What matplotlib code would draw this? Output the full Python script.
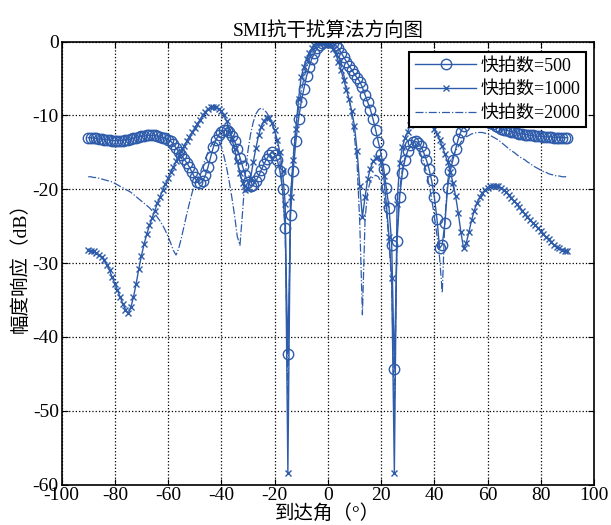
import matplotlib
matplotlib.use("Agg")
import matplotlib.pyplot as plt

plt.rcParams['font.family'] = ['Liberation Serif', 'Noto Sans CJK SC', 'DejaVu Sans']
plt.rcParams['axes.unicode_minus'] = False

# arrival angle (degrees), 1-degree steps
angles = list(range(-90, 91))

s500 = [
    -13.0, -13.0, -13.1, -13.1, -13.2, -13.2, -13.3, -13.3, -13.3, -13.4,
    -13.4, -13.4, -13.4, -13.4, -13.3, -13.3, -13.2, -13.1, -13.0, -12.9,
    -12.8, -12.8, -12.7, -12.7, -12.7, -12.7, -12.8, -12.9, -13.0, -13.1,
    -13.3, -13.5, -13.9, -14.4, -14.9, -15.4, -15.9, -16.4, -17.0, -17.7,
    -18.4, -19.0, -19.2, -18.9, -18.1, -17.0, -15.6, -14.3, -13.3, -12.6,
    -12.2, -12.0, -12.0, -12.3, -12.8, -13.5, -14.5, -15.7, -16.9, -18.1,
    -19.0, -19.5, -19.4, -18.9, -18.2, -17.4, -16.6, -15.9, -15.3, -15.0,
    -15.3, -16.0, -17.5, -20.0, -25.2, -42.3, -23.5, -17.5, -13.5, -10.5,
    -8.2, -6.4, -4.7, -3.4, -2.3, -1.5, -0.9, -0.45, -0.15, -0.02,
    0.0, -0.05, -0.2, -0.5, -0.9, -1.5, -2.1, -2.7, -3.3, -3.8,
    -4.4, -4.9, -5.4, -6.2, -7.2, -8.2, -9.2, -10.5, -12.0, -13.6,
    -15.2, -17.2, -19.8, -22.5, -27.5, -44.3, -27.0, -21.0, -17.8, -16.0,
    -14.8, -14.0, -13.6, -13.5, -13.7, -14.2, -15.0, -16.0, -17.2, -18.8,
    -21.0, -24.0, -28.0, -27.5, -24.5, -19.8, -17.5, -16.0, -14.6, -13.2,
    -12.2, -11.4, -10.8, -10.4, -10.2, -10.1, -10.1, -10.2, -10.4, -10.6,
    -10.8, -11.0, -11.2, -11.4, -11.6, -11.8, -11.9, -12.0, -12.1, -12.2,
    -12.3, -12.4, -12.5, -12.5, -12.6, -12.6, -12.7, -12.7, -12.8, -12.8,
    -12.8, -12.9, -12.9, -12.9, -12.9, -13.0, -13.0, -13.0, -13.0, -13.0,
    -13.0,
]

s1000 = [
    -28.2, -28.3, -28.4, -28.6, -28.9, -29.2, -29.6, -30.2, -31.0, -31.9,
    -32.8, -33.7, -34.6, -35.5, -36.3, -36.8, -36.0, -34.6, -32.8, -30.8,
    -29.0, -27.4, -26.1, -24.9, -23.9, -22.9, -21.9, -21.0, -20.1, -19.3,
    -18.5, -17.7, -17.0, -16.2, -15.5, -14.8, -14.1, -13.5, -12.9, -12.3,
    -11.7, -11.1, -10.6, -10.0, -9.5, -9.1, -8.9, -8.8, -8.9, -9.1,
    -9.4, -10.0, -10.8, -11.9, -13.2, -14.6, -16.2, -17.8, -19.2, -20.1,
    -20.0, -18.5, -16.3, -14.4, -12.7, -11.5, -10.7, -10.3, -10.3, -11.0,
    -12.0, -13.3, -15.0, -17.5, -22.0, -58.5, -21.0, -16.0, -11.8, -7.8,
    -4.8, -3.4, -2.3, -1.5, -0.9, -0.5, -0.2, -0.05, 0.0, -0.05,
    -0.2, -0.5, -1.0, -1.7, -2.7, -3.9, -5.2, -6.5, -7.8, -9.4,
    -11.4, -14.8, -19.5, -23.8, -21.0, -18.6, -17.2, -16.2, -15.8, -15.6,
    -16.3, -18.2, -22.0, -26.5, -32.0, -58.5, -22.0, -16.5, -14.3, -13.0,
    -12.2, -11.3, -10.6, -10.1, -9.8, -9.7, -9.8, -10.1, -10.6, -11.2,
    -11.8, -12.5, -13.3, -14.2, -15.2, -16.3, -17.6, -19.1, -20.9, -23.2,
    -25.8, -28.0, -27.3, -25.8, -24.2, -22.9, -21.9, -21.1, -20.5, -20.1,
    -19.8, -19.6, -19.5, -19.5, -19.6, -19.8, -20.1, -20.4, -20.8, -21.2,
    -21.6, -22.0, -22.4, -22.9, -23.3, -23.7, -24.1, -24.5, -24.9, -25.3,
    -25.7, -26.1, -26.5, -26.8, -27.2, -27.5, -27.8, -28.0, -28.2, -28.3,
    -28.4,
]

s2000 = [
    -18.3, -18.3, -18.4, -18.4, -18.5, -18.6, -18.7, -18.8, -18.9, -19.0,
    -19.2, -19.4, -19.6, -19.8, -20.0, -20.2, -20.4, -20.7, -21.0, -21.3,
    -21.6, -21.9, -22.2, -22.5, -22.9, -23.3, -23.8, -24.3, -24.9, -25.6,
    -26.4, -27.3, -28.3, -28.9, -28.0, -26.6, -25.0, -23.4, -21.9, -20.5,
    -19.3, -18.6, -17.8, -16.9, -15.9, -15.0, -14.2, -13.6, -13.3, -13.4,
    -14.2, -15.5, -17.1, -19.0, -21.2, -23.6, -26.4, -27.6, -23.0, -18.0,
    -14.8, -12.5, -10.9, -9.8, -9.2, -9.0, -9.2, -9.6, -10.2, -11.0,
    -12.2, -13.9, -16.3, -19.8, -26.0, -48.0, -21.0, -15.5, -11.8, -9.0,
    -6.8, -5.0, -3.6, -2.5, -1.6, -1.0, -0.5, -0.2, -0.05, 0.0,
    -0.1, -0.3, -0.7, -1.3, -2.1, -3.2, -4.5, -6.0, -7.8, -10.0,
    -12.8, -16.5, -24.5, -37.0, -24.0, -20.2, -18.9, -18.3, -18.1, -18.3,
    -19.0, -20.5, -23.0, -27.0, -33.0, -50.0, -26.0, -20.0, -17.3, -15.7,
    -14.8, -14.3, -14.1, -14.2, -14.6, -15.3, -16.3, -17.6, -19.3, -21.3,
    -23.6, -26.2, -29.3, -34.0, -24.0, -19.0, -16.8, -15.5, -14.8, -14.2,
    -13.6, -13.2, -12.9, -12.7, -12.5, -12.4, -12.3, -12.3, -12.3, -12.4,
    -12.5, -12.7, -12.9, -13.1, -13.3, -13.6, -13.9, -14.2, -14.5, -14.8,
    -15.0, -15.3, -15.6, -15.8, -16.0, -16.3, -16.5, -16.8, -17.0, -17.2,
    -17.4, -17.6, -17.7, -17.9, -18.0, -18.1, -18.2, -18.2, -18.3, -18.3,
    -18.3,
]

labels = ['快拍数=500', '快拍数=1000', '快拍数=2000']
xticks = [-100, -80, -60, -40, -20, 0, 20, 40, 60, 80, 100]
yticks = [-60, -50, -40, -30, -20, -10, 0]

color = '#2E5CAB'

fig = plt.figure(figsize=(6.11, 5.25), dpi=100)
ax = fig.add_axes([0.1008, 0.0771, 0.8714, 0.8435])

ax.plot(angles, s500, '-', color=color, lw=1.0, marker='o', ms=7.5,
        mfc='none', mec=color, mew=1.0, label=labels[0])
ax.plot(angles, s1000, '-', color=color, lw=1.0, marker='x', ms=4.5,
        mec=color, mew=1.0, label=labels[1])
ax.plot(angles, s2000, '-.', color=color, lw=0.9, label=labels[2])

ax.set_xlim(-100, 100)
ax.set_ylim(-60, 0)
ax.set_xticks(xticks)
ax.set_yticks(yticks)
ax.tick_params(direction='in', top=True, right=True, labelsize=14, length=4,
               width=0.8, pad=2)
ax.grid(True, color='black', linestyle=':', linewidth=0.9)
for sp in ax.spines.values():
    sp.set_linewidth(1.2)

ax.set_title('SMI抗干扰算法方向图', fontsize=14, pad=4)
ax.set_xlabel('到达角（°）', fontsize=14, labelpad=0)
ax.set_ylabel('幅度响应（dB）', fontsize=14, labelpad=2)

leg = ax.legend(loc='upper right', bbox_to_anchor=(0.985, 0.977),
                borderaxespad=0, fontsize=13, fancybox=False, framealpha=1,
                edgecolor='black', handlelength=3.4, labelspacing=0.38,
                borderpad=0.3, handletextpad=0.25)
leg.get_frame().set_linewidth(1.5)

fig.savefig('out.png', dpi=100)
